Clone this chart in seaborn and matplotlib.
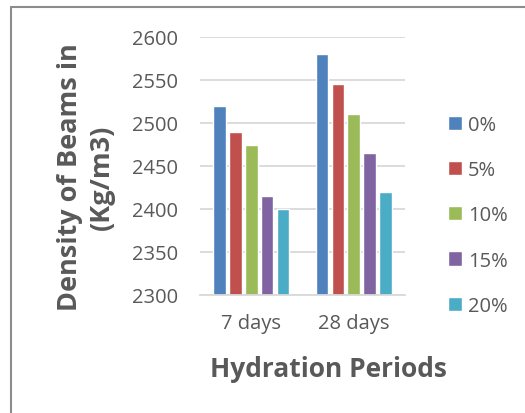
import matplotlib
matplotlib.use("Agg")
import matplotlib.pyplot as plt
import seaborn as sns
import pandas as pd
from matplotlib.lines import Line2D

categories = ["7 days", "28 days"]
series = ["0%", "5%", "10%", "15%", "20%"]
values_7 = [2520, 2490, 2475, 2415, 2400]
values_28 = [2580, 2545, 2510, 2465, 2420]
colors = ["#4F81BD", "#C0504D", "#9BBB59", "#8064A2", "#4BACC6"]

rows = []
for s, a, b in zip(series, values_7, values_28):
    rows.append({"Period": categories[0], "Mix": s, "Density": a})
    rows.append({"Period": categories[1], "Mix": s, "Density": b})
df = pd.DataFrame(rows)

sns.set_style("white")
plt.rcParams["font.family"] = ["Open Sans", "DejaVu Sans"]

W, H = 525, 414
fig = plt.figure(figsize=(W / 100, H / 100), dpi=100)
ax = fig.add_axes([200 / W, 1 - 296 / H, 205 / W, 258 / H])

sns.barplot(data=df, x="Period", y="Density", hue="Mix", order=categories,
            hue_order=series, palette=colors, width=0.77, gap=0.2,
            saturation=1, ax=ax, legend=True)

ax.set_ylim(2300, 2600)
ax.set_yticks(range(2300, 2601, 50))
ax.set_xlim(-0.5, 1.5)
ax.grid(axis="y", color="#D9D9D9", linewidth=1.3)
ax.set_axisbelow(True)
for sp in ["top", "right", "left"]:
    ax.spines[sp].set_visible(False)
ax.spines["bottom"].set_color("#D9D9D9")
ax.spines["bottom"].set_linewidth(1.3)
ax.tick_params(axis="both", length=0, labelsize=14.5, colors="#595959")
ax.tick_params(axis="y", pad=16)
ax.tick_params(axis="x", pad=13)

ax.set_xlabel("Hydration Periods", fontsize=19, fontweight="bold", color="#595959")
ax.set_ylabel("Density of Beams in\n(Kg/m3)", fontsize=19.5, fontweight="bold",
              color="#595959", linespacing=1.3)
ax.yaxis.label.set_verticalalignment("center")
ax.yaxis.set_label_coords((86 - 200) / 205, (296 - 177) / 258)
ax.xaxis.label.set_verticalalignment("center")
ax.xaxis.set_label_coords((328 - 200) / 205, (296 - 370) / 258)

leg = ax.legend(loc="upper left", bbox_to_anchor=(448 / W, 1 - 116 / H),
                bbox_transform=fig.transFigure, frameon=False,
                borderaxespad=0, borderpad=0,
                handlelength=0.7, handleheight=0.7, labelspacing=1.25,
                fontsize=14.5, handletextpad=0.3)
for t in leg.get_texts():
    t.set_color("#595959")

fig.lines.append(Line2D([11 / W, 11 / W], [0, 1 - 8 / H], transform=fig.transFigure,
                        color="#8C8C8C", linewidth=1.5))
fig.lines.append(Line2D([11 / W, 1], [1 - 8 / H, 1 - 8 / H], transform=fig.transFigure,
                        color="#8C8C8C", linewidth=1.5))

fig.savefig("out.png", dpi=100)
